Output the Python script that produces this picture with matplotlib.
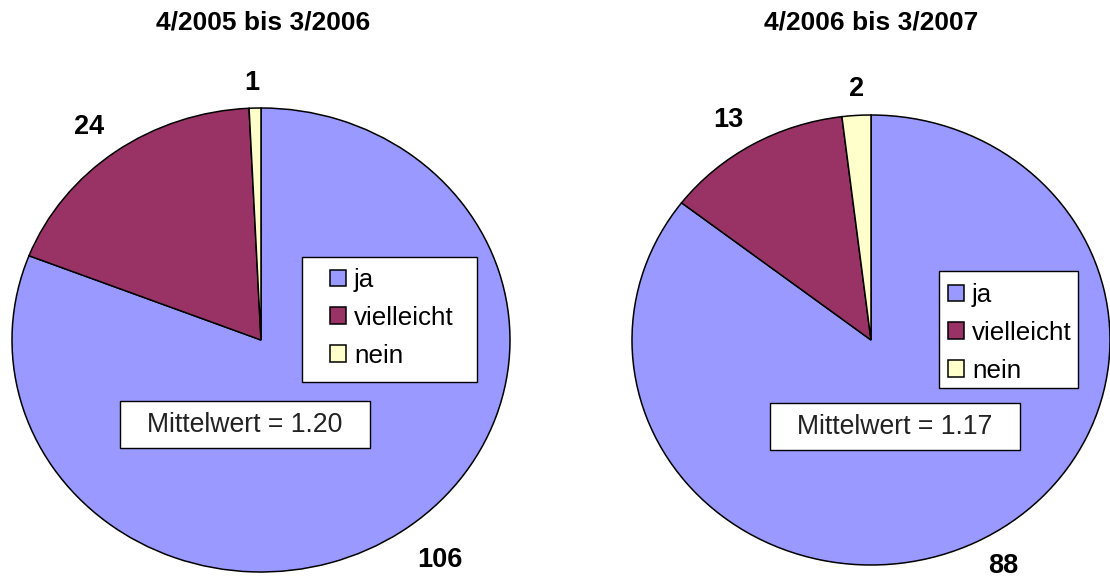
import matplotlib.pyplot as plt
from matplotlib.patches import Rectangle

# picture size in pixels
W, H = 1110, 582

titles = ['4/2005 bis 3/2006', '4/2006 bis 3/2007']
categories = ['ja', 'vielleicht', 'nein']
counts_2005 = [106, 24, 1]
counts_2006 = [88, 13, 2]
means = ['1.20', '1.17']
colors = ['#9999FF', '#993366', '#FFFFCC']

plt.rcParams['font.family'] = ['Liberation Sans', 'DejaVu Sans']


def fx(px):
    return px / W


def fy(py):
    return 1 - py / H


# layout of each panel, in pixels from the top left corner
panels = [
    dict(box=(12, 108, 498, 464), title_xy=(263, 22),
         label_xy=[(440, 560), (89, 127), (252, 83)],
         legend_box=(302, 257, 175, 125), legend_xy=(330, 268),
         mean_box=(120, 401, 250, 47)),
    dict(box=(632, 115, 478, 450), title_xy=(871, 22),
         label_xy=[(1003, 566), (728, 120), (857, 89)],
         legend_box=(939, 271, 139, 117), legend_xy=(948, 283),
         mean_box=(770, 403, 250, 47)),
]

fig = plt.figure(figsize=(W / 100, H / 100), dpi=100)

for counts, title, mean, p in zip([counts_2005, counts_2006], titles, means, panels):
    l, t, w, h = p['box']
    ax = fig.add_axes([fx(l), fy(t + h), w / W, h / H])
    wedges, _ = ax.pie(counts, colors=colors, startangle=90, counterclock=False,
                       wedgeprops=dict(edgecolor='black', linewidth=1.1))
    # the original pies are slightly wider than tall
    ax.set_aspect('auto')
    ax.set_xlim(-1, 1)
    ax.set_ylim(-1, 1)

    fig.text(fx(p['title_xy'][0]), fy(p['title_xy'][1]), title,
             ha='center', va='center', fontsize=19, fontweight='bold')

    # value labels outside the pie
    for n, (lx, ly) in zip(counts, p['label_xy']):
        fig.text(fx(lx), fy(ly), str(n), ha='center', va='center',
                 fontsize=19.5, fontweight='bold')

    # legend box
    bl, bt, bw, bh = p['legend_box']
    fig.add_artist(Rectangle((fx(bl), fy(bt + bh)), bw / W, bh / H,
                             transform=fig.transFigure, facecolor='white',
                             edgecolor='black', linewidth=1.0, zorder=3))
    leg = fig.legend(wedges, categories, loc='upper left',
                     bbox_to_anchor=(fx(p['legend_xy'][0]), fy(p['legend_xy'][1])),
                     frameon=False, fontsize=18.7, borderpad=0, borderaxespad=0,
                     handlelength=0.6, handleheight=0.6, handletextpad=0.32,
                     labelspacing=0.53)
    leg.set_zorder(4)

    # box with the mean value
    ml, mt, mw, mh = p['mean_box']
    fig.add_artist(Rectangle((fx(ml), fy(mt + mh)), mw / W, mh / H,
                             transform=fig.transFigure, facecolor='white',
                             edgecolor='black', linewidth=1.0, zorder=3))
    fig.text(fx(ml + mw / 2), fy(mt + mh / 2), f'Mittelwert = {mean}',
             ha='center', va='center', fontsize=19.2, color='#222222', zorder=4)

fig.savefig('out.png', dpi=100)
